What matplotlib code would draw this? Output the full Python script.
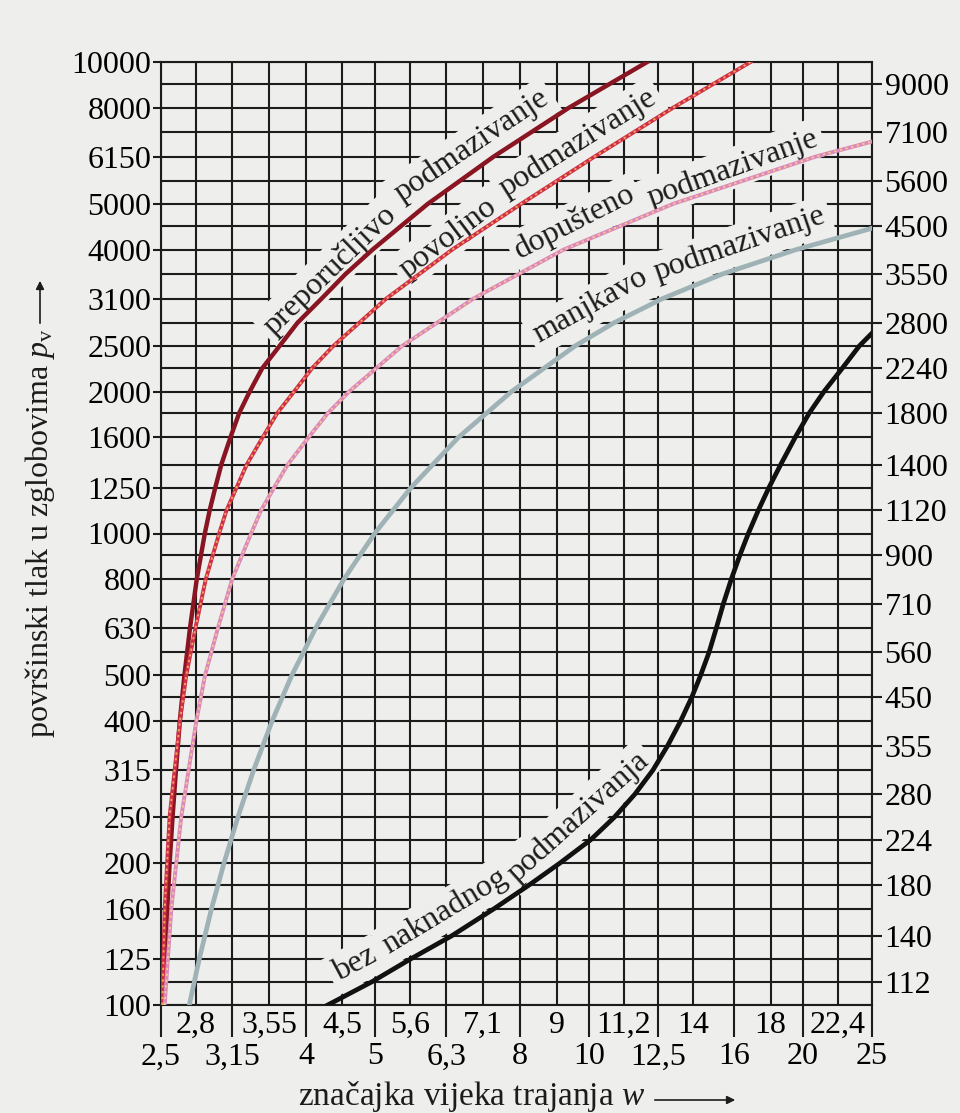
import matplotlib
matplotlib.use("Agg")
import matplotlib.pyplot as plt
from matplotlib.patches import FancyArrowPatch
from matplotlib.ticker import FixedLocator, FixedFormatter

plt.rcParams.update({
    "font.family": ["Liberation Serif", "DejaVu Serif"],
    "mathtext.fontset": "custom",
    "mathtext.rm": "Liberation Serif",
    "mathtext.it": "Liberation Serif:italic",
    "font.size": 23,
})

# ── osi (Renardovi nizovi) ───────────────────────────────────────────────────
w_major = [2.5, 3.15, 4, 5, 6.3, 8, 10, 12.5, 16, 20, 25]
w_major_lbl = ["2,5", "3,15", "4", "5", "6,3", "8", "10", "12,5", "16", "20", "25"]
w_minor = [2.8, 3.55, 4.5, 5.6, 7.1, 9, 11.2, 14, 18, 22.4]
w_minor_lbl = ["2,8", "3,55", "4,5", "5,6", "7,1", "9", "11,2", "14", "18", "22,4"]

p_left = [100, 125, 160, 200, 250, 315, 400, 500, 630, 800, 1000, 1250, 1600,
          2000, 2500, 3150, 4000, 5000, 6300, 8000, 10000]
p_left_lbl = ["100", "125", "160", "200", "250", "315", "400", "500", "630",
              "800", "1000", "1250", "1600", "2000", "2500", "3100", "4000",
              "5000", "6150", "8000", "10000"]
p_right = [112, 140, 180, 224, 280, 355, 450, 560, 710, 900, 1120, 1400, 1800,
           2240, 2800, 3550, 4500, 5600, 7100, 9000]

# ── krivulje (očitano s dijagrama na linijama mreže) ────────────────────────
w_prep = [2.520, 2.534, 2.551, 2.571, 2.595, 2.624, 2.657, 2.697, 2.746, 2.807,
          2.881, 2.927, 2.980, 3.039, 3.131, 3.220, 3.332, 3.469, 3.671, 3.891,
          4.206, 4.544, 4.960, 5.930, 7.342, 9.371, 12.07]
p_prep = [100, 125, 160, 200, 250, 315, 400, 500, 630, 800,
          1000, 1120, 1250, 1400, 1600, 1800, 2000, 2240, 2500, 2800,
          3150, 3550, 4000, 5000, 6300, 8000, 10000]

w_povo = [2.510, 2.530, 2.570, 2.658, 2.713, 2.795, 2.890, 3.018, 3.091, 3.192,
          3.300, 3.475, 3.643, 3.847, 4.076, 4.370, 5.186, 6.419, 8.023, 10.18,
          13.13, 16.87]
p_povo = [100, 160, 250, 400, 500, 630, 800, 1000, 1120, 1250,
          1400, 1600, 1800, 2000, 2240, 2500, 3150, 4000, 5000, 6300,
          8000, 10000]

w_dopu = [2.530, 2.585, 2.669, 2.803, 2.883, 3.006, 3.148, 3.347, 3.457, 3.605,
          3.768, 4.033, 4.291, 4.598, 5.460, 6.879, 9.208, 13.12, 20.83, 25]
p_dopu = [100, 160, 250, 400, 500, 630, 800, 1000, 1120, 1250,
          1400, 1600, 1800, 2000, 2500, 3150, 4000, 5000, 6300, 6780]

w_manj = [2.740, 2.829, 2.944, 3.066, 3.206, 3.375, 3.582, 3.818, 4.125, 4.521,
          4.993, 5.615, 6.553, 7.780, 9.562, 10.85, 12.69, 15.39, 19.55, 25]
p_manj = [100, 125, 160, 200, 250, 315, 400, 500, 630, 800,
          1000, 1250, 1600, 2000, 2500, 2800, 3150, 3550, 4000, 4440]

w_bez = [4.29, 4.95, 5.60, 6.40, 7.35, 8.25, 9.10, 10.05, 10.85, 11.6, 12.3, 12.9, 13.45,
         13.95, 14.35, 14.75, 15.1, 15.45, 15.85, 16.3, 16.75, 17.3, 17.9, 18.6, 19.5,
         20.4, 21.4, 22.7, 24.0, 25]
p_bez = [100, 112, 125, 140, 160, 180, 200, 224, 250, 280, 315, 355, 400,
         450, 500, 560, 630, 710, 800, 900, 1000, 1120, 1250, 1400, 1600,
         1800, 2000, 2240, 2500, 2660]

# natpisi uz krivulje: riječi (tekst, x i y u udjelima osi, kut)
curve_labels = [
    [("preporučljivo", 0.2377, 0.7794, 44), ("podmazivanje", 0.4374, 0.9109, 34)],
    [("povoljno", 0.4037, 0.8134, 37), ("podmazivanje", 0.5865, 0.9141, 32)],
    [("dopušteno", 0.5823, 0.8303, 27), ("podmazivanje", 0.8045, 0.8876, 20)],
    [("manjkavo", 0.6048, 0.7413, 29), ("podmazivanje", 0.8143, 0.8070, 19)],
    [("bez", 0.2730, 0.0430, 28), ("naknadnog", 0.3994, 0.0997, 31),
     ("podmazivanja", 0.5865, 0.1994, 42)],
]

BG = "#eeeeec"
INK = "#1c1c1c"

fig = plt.figure(figsize=(9.6, 11.13), dpi=100, facecolor=BG)
ax = fig.add_axes([161 / 960, 108 / 1113, 711 / 960, 943 / 1113], facecolor=BG)
ax.set_xscale("log")
ax.set_yscale("log")
ax.set_xlim(2.5, 25)
ax.set_ylim(100, 10000)

ax.xaxis.set_major_locator(FixedLocator(w_major))
ax.xaxis.set_major_formatter(FixedFormatter(w_major_lbl))
ax.xaxis.set_minor_locator(FixedLocator(w_minor))
ax.xaxis.set_minor_formatter(FixedFormatter(w_minor_lbl))
ax.yaxis.set_major_locator(FixedLocator(p_left))
ax.yaxis.set_major_formatter(FixedFormatter(p_left_lbl))
ax.yaxis.set_minor_locator(FixedLocator(p_right))
ax.yaxis.set_minor_formatter(FixedFormatter([str(v) for v in p_right]))

ax.tick_params(axis="x", which="major", length=23, width=1.5, pad=4, color=INK)
ax.tick_params(axis="x", which="minor", length=0, pad=4)
ax.tick_params(axis="y", which="major", left=True, right=False, labelleft=True,
               labelright=False, length=6, width=1.5, pad=1, color=INK)
ax.tick_params(axis="y", which="minor", left=False, right=True, labelleft=False,
               labelright=True, length=7, width=1.5, pad=2, color=INK)

ax.grid(which="both", color=INK, linewidth=1.5)
ax.set_axisbelow(True)
for s in ax.spines.values():
    s.set_color(INK)
    s.set_linewidth(1.5)

# krivulje
ax.plot(w_prep, p_prep, color="#8a1522", lw=3.2, zorder=5)
ax.plot(w_povo, p_povo, color="#cf2f48", lw=2.8, zorder=5)
ax.plot(w_povo, p_povo, color="#f0a45c", lw=1.4, ls=(0, (1.2, 1.8)), zorder=6)
ax.plot(w_dopu, p_dopu, color="#dc88b8", lw=2.8, zorder=5)
ax.plot(w_dopu, p_dopu, color="#f5c898", lw=1.4, ls=(0, (1.2, 1.8)), zorder=6)
ax.plot(w_manj, p_manj, color="#9fb2b6", lw=3.4, zorder=5)
ax.plot(w_bez, p_bez, color="#111111", lw=3.4, zorder=5)

# natpisi: svijetla traka ispod riječi skriva mrežu
box = dict(facecolor=BG, edgecolor="none", pad=4)
for words in curve_labels:
    xs = [wd[1] for wd in words]
    ys = [wd[2] for wd in words]
    ax.plot(xs, ys, transform=ax.transAxes, color=BG, lw=24,
            solid_capstyle="butt", zorder=2.5)
    for txt, xf, yf, rot in words:
        ax.text(xf, yf, txt, transform=ax.transAxes, rotation=rot, ha="center",
                va="center", rotation_mode="anchor", fontsize=23, color=INK,
                bbox=box, zorder=3)

# naslovi osi sa strelicama
fig.text(40 / 960, 1 - 533 / 1113, r"površinski tlak u zglobovima $p_{\mathrm{v}}$",
         rotation=90, ha="center", va="center", fontsize=23, color=INK)
fig.add_artist(FancyArrowPatch(
    (40 / 960, 1 - 326 / 1113), (40 / 960, 1 - 278 / 1113),
    transform=fig.transFigure, arrowstyle="-|>", mutation_scale=12,
    color=INK, lw=1.2))
fig.text(472 / 960, 1 - 1097 / 1113, r"značajka vijeka trajanja $w$",
         ha="center", va="center", fontsize=24, color=INK)
fig.add_artist(FancyArrowPatch(
    (652 / 960, 1 - 1100 / 1113), (738 / 960, 1 - 1100 / 1113),
    transform=fig.transFigure, arrowstyle="-|>", mutation_scale=12,
    color=INK, lw=1.2))

fig.savefig("out.png", dpi=100, facecolor=BG)
